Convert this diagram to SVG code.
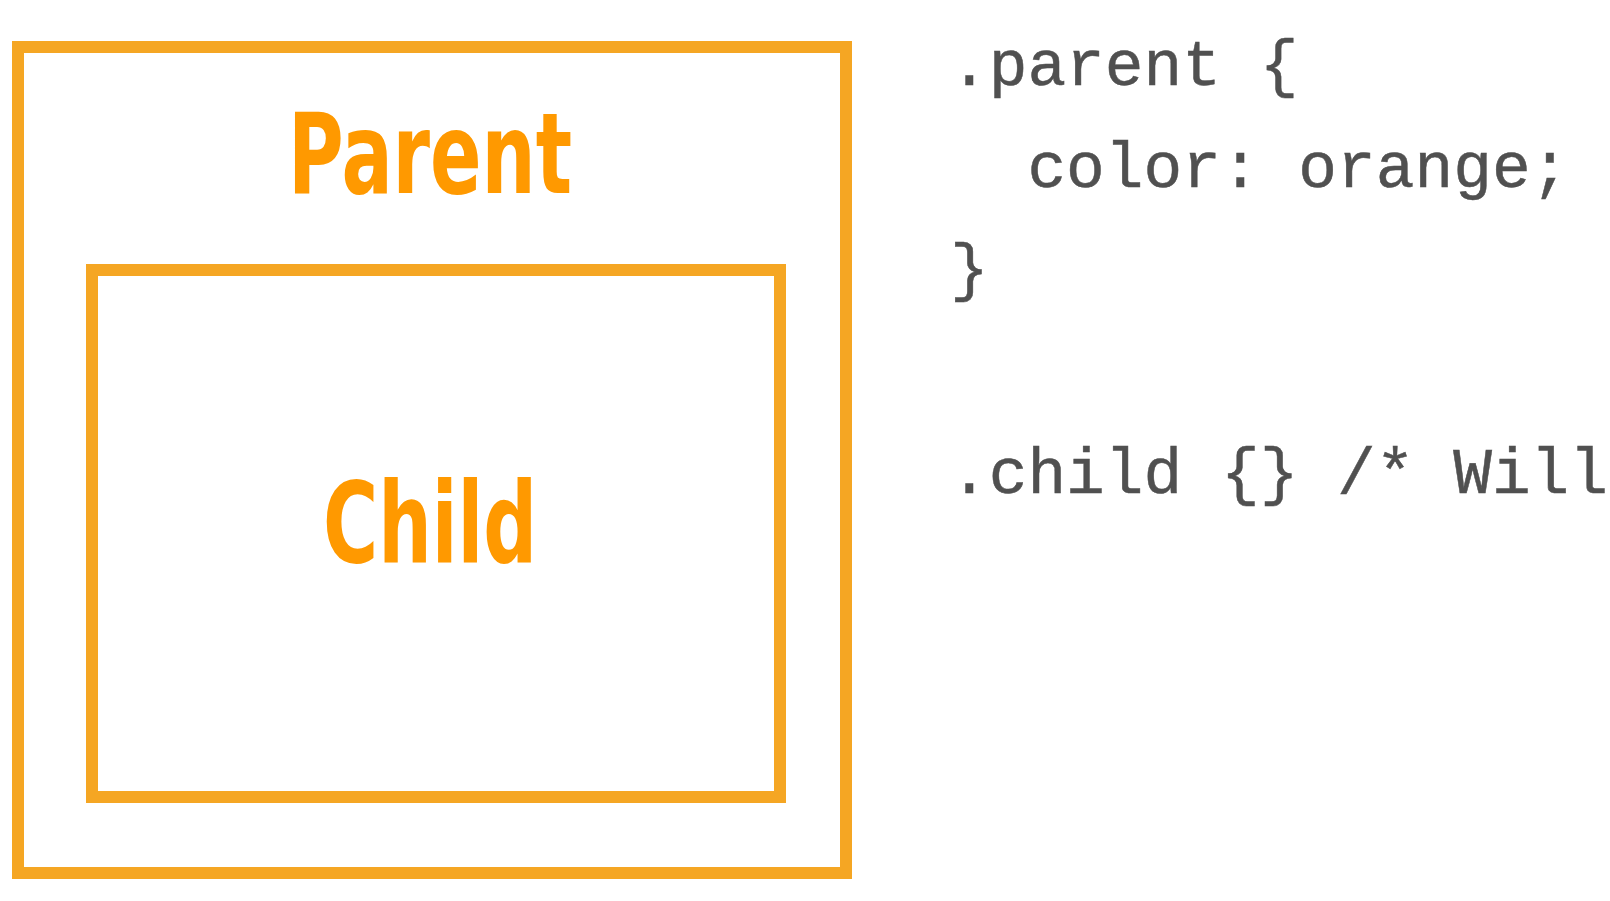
<svg xmlns="http://www.w3.org/2000/svg" width="1610" height="901" viewBox="0 0 1610 901">
<style>
.box{fill:none;stroke:#F5A623;stroke-width:12}
.lbl{fill:#FF9900;font-family:"DejaVu Sans Condensed","DejaVu Sans",sans-serif;font-weight:bold;font-size:112px}
.code{fill:#505050;stroke:#505050;stroke-width:0.5;font-family:"Liberation Mono","Courier New",Cousine,"DejaVu Sans Mono",monospace;font-size:64.5px;white-space:pre}
</style>
<rect width="1610" height="901" fill="#ffffff"/>
<g id="parent">
<rect class="box" x="18" y="47" width="828" height="826"/>
<text class="lbl" x="288" y="193" textLength="284" lengthAdjust="spacingAndGlyphs">Parent</text>
</g>
<g id="child">
<rect class="box" x="92" y="270" width="688" height="527"/>
<text class="lbl" x="323" y="562" textLength="214" lengthAdjust="spacingAndGlyphs">Child</text>
</g>
<g id="connectors"/>
<g id="code">
<text class="code" x="950" y="85">.parent {</text>
<text class="code" x="950" y="187" xml:space="preserve">  color: orange;</text>
<text class="code" x="950" y="289">}</text>
<text class="code" x="950" y="493" xml:space="preserve">.child {} /* Will</text>
</g>
</svg>
